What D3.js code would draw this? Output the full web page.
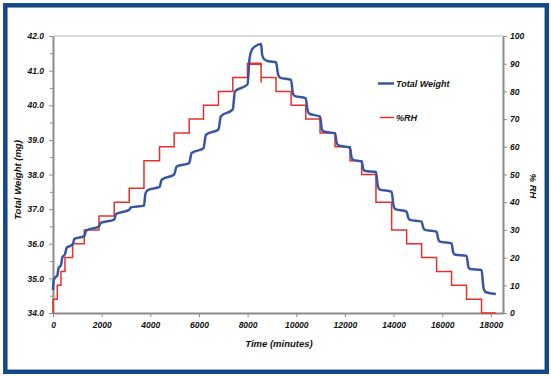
<!DOCTYPE html>
<html>
<head>
<meta charset="utf-8">
<script src="https://cdn.jsdelivr.net/npm/d3@7"></script>
<style>
  body { margin: 0; background: #fff; }
  svg text { font-family: "Liberation Sans", Arial, sans-serif; font-weight: bold; font-style: italic; fill: #111; }
</style>
</head>
<body>
<svg id="chart" width="551" height="377"></svg>
<script>
// Time (minutes) / Total Weight (mg)
const weightTimes = [0, 30, 100, 177, 230, 328, 380, 493, 560, 807, 880, 1286, 1360, 1889, 1960, 2518, 2590, 3134, 3200,
    3740, 3800, 3900, 4380, 4470, 4982, 5080, 5598, 5700, 6186, 6290, 6802, 6900, 7392, 7480, 7994, 8080, 8170, 8310, 8555,
    8600, 8680, 8860, 9171, 9250, 9330, 9787, 9860, 9930, 10391, 10460, 10530, 10978, 11050, 11120, 11594, 11660, 11730,
    12210, 12270, 12340, 12690, 12760, 12830, 13278, 13350, 13420, 13922, 14000, 14070, 14538, 14600, 14670, 15154, 15220,
    15290, 15770, 15840, 15910, 16386, 16450, 16520, 17002, 17080, 17150, 17618, 17700, 17800, 18206];
const weightValues = [34.66, 34.95, 35.03, 35.08, 35.3, 35.38, 35.6, 35.7, 35.88, 35.98, 36.14, 36.22, 36.38, 36.5, 36.6, 36.7, 36.86, 36.98, 37.05,
    37.1, 37.45, 37.55, 37.64, 37.85, 38.0, 38.23, 38.33, 38.62, 38.76, 39.15, 39.3, 39.68, 39.88, 40.4, 40.6, 41.35, 41.6, 41.7, 41.77,
    41.45, 41.33, 41.27, 41.24, 40.9, 40.8, 40.73, 40.35, 40.27, 40.2, 39.88, 39.76, 39.67, 39.32, 39.24, 39.19, 38.93, 38.84,
    38.78, 38.5, 38.42, 38.37, 38.15, 38.1, 38.07, 37.68, 37.57, 37.5, 37.1, 37.0, 36.93, 36.76, 36.69, 36.64, 36.47,
    36.4, 36.35, 36.13, 36.06, 36.01, 35.76, 35.69, 35.65, 35.32, 35.27, 35.24, 34.72, 34.6, 34.55];

// %RH set points (step after each time)
const rhTimes = [0, 0, 177, 328, 493, 807, 1286, 1889, 2518, 3134, 3740, 4380, 4982, 5598, 6186, 6802, 7392, 7994,
    8555, 8556, 8570, 9171, 9787, 10391, 10978, 11594, 12210, 12690, 13278, 13922, 14538, 15154, 15770, 16386, 17002, 17618, 18206];
const rhValues = [0, 5, 10, 15, 20, 25, 30, 35, 40, 45, 55, 60, 65, 70, 75, 80, 85, 90,
    83.5, 85, 85, 80, 75, 70, 65, 60, 55, 50, 40, 30, 25, 20, 15, 10, 5, 0, 0];
// noisy readings while holding at 90 %RH
const rhPeakTimes = [7994, 8015, 8035, 8055, 8075, 8095, 8115, 8135, 8155, 8175, 8195, 8215, 8235, 8255, 8275, 8295,
    8315, 8335, 8355, 8375, 8395, 8415, 8435, 8455, 8475, 8495, 8515, 8535, 8555];
const rhPeakValues = [90.4, 89.6, 90.4, 89.6, 90.4, 89.6, 90.4, 89.6, 90.4, 89.6, 90.4, 89.6, 90.4, 89.6, 90.4, 89.6,
    90.4, 89.6, 90.4, 89.6, 90.4, 89.6, 90.4, 89.6, 90.4, 89.6, 90.4, 89.6, 90];

const xTicks = d3.range(0, 18001, 2000);
const weightTicks = d3.range(34, 42.01, 1);
const rhTicks = d3.range(0, 101, 10);

const weight = weightTimes.map((t, i) => ({ t: t, v: weightValues[i] }));
const rh = rhTimes.map((t, i) => ({ t: t, v: rhValues[i] }));
const rhPeak = rhPeakTimes.map((t, i) => ({ t: t, v: rhPeakValues[i] }));

const dims = { width: 551, height: 377, left: 53, right: 503, top: 36, bottom: 313 };
const gray = "#8c8c8c";

const svg = d3.select("#chart");

// outer frame
svg.append("rect")
    .attr("x", 5.3).attr("y", 5.3)
    .attr("width", 541.5).attr("height", 366.5)
    .attr("fill", "#fff")
    .attr("stroke", "#134a85")
    .attr("stroke-width", 4.5);

const xScale = d3.scaleLinear().domain([0, 18500]).range([dims.left, dims.right]);
const yLeft = d3.scaleLinear().domain([34, 42]).range([dims.bottom, dims.top]);
const yRight = d3.scaleLinear().domain([0, 100]).range([dims.bottom, dims.top]);

// top border of plot area
svg.append("line")
    .attr("x1", dims.left).attr("x2", dims.right)
    .attr("y1", dims.top).attr("y2", dims.top)
    .attr("stroke", "#cfcfcf").attr("stroke-width", 1.5);

function styleAxis(g) {
    g.select(".domain").attr("stroke", gray).attr("stroke-width", 2);
    g.selectAll(".tick line").attr("stroke", gray).attr("stroke-width", 1);
    g.selectAll(".tick text").style("font-size", "8.5px").attr("fill", "#111");
}

// minor ticks on the left axis
svg.append("g")
    .attr("transform", `translate(${dims.left},0)`)
    .call(d3.axisLeft(yLeft).tickValues(d3.range(34.5, 42, 1)).tickSize(3).tickFormat(""))
    .call(g => g.select(".domain").remove())
    .call(g => g.selectAll(".tick line").attr("stroke", gray));

svg.append("g")
    .attr("transform", `translate(${dims.left},0)`)
    .call(d3.axisLeft(yLeft).tickValues(weightTicks).tickFormat(d3.format(".1f")).tickSize(4).tickSizeOuter(0).tickPadding(5))
    .call(styleAxis);

svg.append("g")
    .attr("transform", `translate(${dims.right},0)`)
    .call(d3.axisRight(yRight).tickValues(rhTicks).tickFormat(d3.format("d")).tickSize(4).tickSizeOuter(0).tickPadding(3))
    .call(styleAxis);

svg.append("g")
    .attr("transform", `translate(0,${dims.bottom})`)
    .call(d3.axisBottom(xScale).tickValues(xTicks).tickFormat(d3.format("d")).tickSize(4).tickSizeOuter(0).tickPadding(5))
    .call(styleAxis);

// axis titles
svg.append("text")
    .attr("transform", "translate(17,180) rotate(-90)")
    .attr("text-anchor", "middle").attr("dominant-baseline", "central")
    .style("font-size", "9.5px")
    .text("Total Weight (mg)");

svg.append("text")
    .attr("transform", "translate(533,186) rotate(90)")
    .attr("text-anchor", "middle").attr("dominant-baseline", "central")
    .style("font-size", "9.5px")
    .text("% RH");

svg.append("text")
    .attr("x", 279).attr("y", 343)
    .attr("text-anchor", "middle").attr("dominant-baseline", "central")
    .style("font-size", "9.5px")
    .text("Time (minutes)");

// %RH series
const rhLine = d3.line().x(d => xScale(d.t)).y(d => yRight(d.v)).curve(d3.curveStepAfter);
svg.append("path")
    .datum(rh)
    .attr("d", rhLine)
    .attr("fill", "none")
    .attr("stroke", "#e8302a")
    .attr("stroke-width", 1.5);

svg.append("path")
    .datum(rhPeak)
    .attr("d", d3.line().x(d => xScale(d.t)).y(d => yRight(d.v)))
    .attr("fill", "none")
    .attr("stroke", "#e8302a")
    .attr("stroke-width", 1.5);

// Total weight series
const weightLine = d3.line().x(d => xScale(d.t)).y(d => yLeft(d.v)).curve(d3.curveMonotoneX);
svg.append("path")
    .datum(weight)
    .attr("d", weightLine)
    .attr("fill", "none")
    .attr("stroke", "#3a55a4")
    .attr("stroke-width", 2.5)
    .attr("stroke-linejoin", "round");

// legend
const legend = [
    { name: "Total Weight", color: "#3a55a4", width: 2.5, y: 83.5, x1: 378 },
    { name: "%RH", color: "#e8302a", width: 1.5, y: 117.5, x1: 380 }
];
legend.forEach(d => {
    svg.append("line")
        .attr("x1", d.x1).attr("x2", 394)
        .attr("y1", d.y).attr("y2", d.y)
        .attr("stroke", d.color).attr("stroke-width", d.width);
    svg.append("text")
        .attr("x", 396).attr("y", d.y)
        .attr("dominant-baseline", "central")
        .style("font-size", "9px")
        .text(d.name);
});
</script>
</body>
</html>
